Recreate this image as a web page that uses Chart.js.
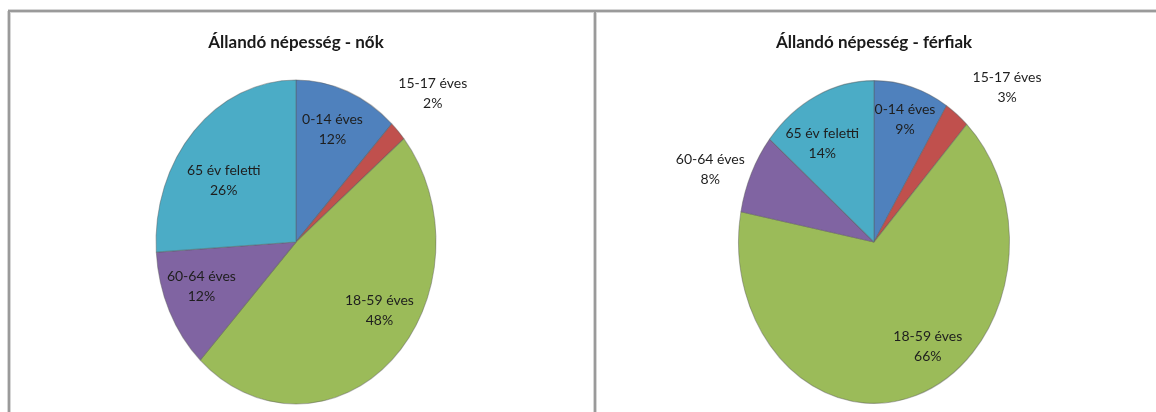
<!DOCTYPE html>
<html>
<head>
<meta charset="utf-8">
<script src="https://cdn.jsdelivr.net/npm/chart.js@4"></script>
<style>
  html, body { margin:0; padding:0; background:#fff; }
  body { width:1156px; height:412px; position:relative; overflow:hidden; }
  .line { position:absolute; background:#9a9a9a; }
  .soft { position:absolute; background:#d6d6d6; }
  canvas { position:absolute; }
</style>
</head>
<body>
<div class="soft" style="left:7px;top:11px;width:1px;height:401px"></div>
<div class="line" style="left:8px;top:10px;width:2px;height:402px"></div>
<div class="soft" style="left:10px;top:12px;width:1px;height:400px"></div>
<div class="soft" style="left:8px;top:9px;width:1148px;height:1px"></div>
<div class="line" style="left:8px;top:10px;width:1148px;height:2px"></div>
<div class="soft" style="left:10px;top:12px;width:1146px;height:1px"></div>
<div class="soft" style="left:593px;top:12px;width:1px;height:400px"></div>
<div class="line" style="left:594px;top:10px;width:2px;height:402px"></div>
<div class="soft" style="left:596px;top:12px;width:1px;height:400px"></div>

<canvas id="c1" width="582" height="399" style="left:12px;top:13px;width:582px;height:399px"></canvas>
<canvas id="c2" width="558" height="399" style="left:598px;top:13px;width:558px;height:399px"></canvas>

<script>
// ---- data ----
const categories = ['0-14 éves', '15-17 éves', '18-59 éves', '60-64 éves', '65 év feletti'];
const womenValues = [12, 2, 48, 12, 26];
const menValues   = [9, 3, 66, 8, 14];
const titleWomen = 'Állandó népesség - nők';
const titleMen   = 'Állandó népesség - férfiak';

// ---- styling ----
const sliceColors = ['#4F81BD', '#C0504D', '#9BBB59', '#8064A2', '#4BACC6'];
const FONT = 'Lato, "Open Sans", "DejaVu Sans", sans-serif';
const TITLE_SIZE = 17;

// label placement: radius fraction and angular shift (deg) per slice
const placeWomen = [{f:0.74,da:-1},{f:1.34,da:0},{f:0.73,da:-11.5},{f:0.73,da:3},{f:0.64,da:-7}];
const placeMen   = [{f:0.79,da:0.6},{f:1.37,da:8},{f:0.76,da:-13.5},{f:1.29,da:-4.7},{f:0.72,da:-6.8}];

const ellipsePlugin = {
  id: 'ellipse',
  beforeDatasetsDraw(chart, args, opts) {
    const arc = chart.getDatasetMeta(0).data[0];
    if (!arc) return;
    const ctx = chart.ctx;
    ctx.save();
    ctx.translate(arc.x, arc.y);
    ctx.scale(1, opts.sy);
    ctx.translate(-arc.x, -arc.y);
  },
  afterDatasetsDraw(chart, args, opts) {
    const ctx = chart.ctx;
    ctx.restore();
    const meta = chart.getDatasetMeta(0);
    const ds = chart.data.datasets[0].data;
    const total = ds.reduce((a, b) => a + b, 0);
    ctx.save();
    ctx.font = '14px ' + FONT;
    ctx.fillStyle = '#1e1e1e';
    ctx.textAlign = 'center';
    ctx.textBaseline = 'middle';
    meta.data.forEach((arc, i) => {
      const p = opts.place[i];
      const mid = (arc.startAngle + arc.endAngle) / 2 + p.da * Math.PI / 180;
      const r = arc.outerRadius * p.f;
      const x = arc.x + r * Math.cos(mid);
      const y = arc.y + opts.sy * r * Math.sin(mid);
      const pct = Math.round(ds[i] / total * 100) + '%';
      ctx.fillText(chart.data.labels[i], x, y - 10);
      ctx.fillText(pct, x, y + 10);
    });
    ctx.restore();
  }
};

function makePie(id, title, values, pad, sy, place) {
  const lh = TITLE_SIZE * 1.2;
  const ptop = 30 - lh / 2;
  return new Chart(document.getElementById(id), {
    type: 'pie',
    data: {
      labels: categories,
      datasets: [{
        data: values,
        backgroundColor: sliceColors,
        borderColor: 'rgba(90,90,90,0.45)',
        borderWidth: 1
      }]
    },
    options: {
      responsive: false,
      animation: false,
      layout: { padding: pad },
      plugins: {
        legend: { display: false },
        tooltip: { enabled: false },
        title: {
          display: true,
          text: title,
          color: '#1a1a1a',
          font: { family: FONT, size: TITLE_SIZE, weight: 'bold' },
          padding: { top: ptop, bottom: 59 - ptop - lh }
        },
        ellipse: { sy: sy, place: place }
      }
    },
    plugins: [ellipsePlugin]
  });
}

makePie('c1', titleWomen, womenValues, {left:143.5, right:157.5, top:0, bottom:0}, 162/140, placeWomen);
makePie('c2', titleMen, menValues, {left:140, right:146, top:0, bottom:0}, 162/136, placeMen);
</script>
</body>
</html>
